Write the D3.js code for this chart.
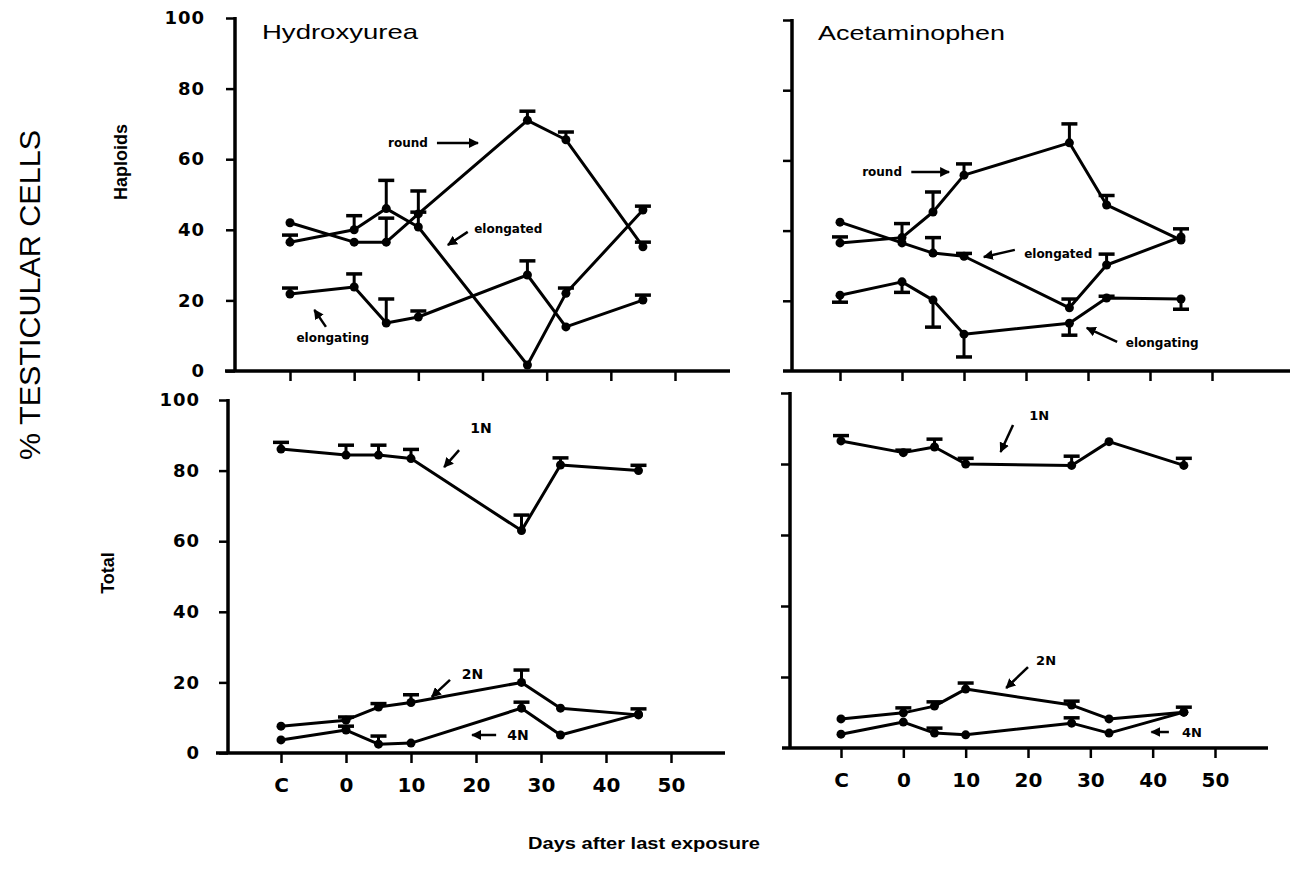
<!DOCTYPE html>
<html>
<head>
<meta charset="utf-8">
<script src="https://cdn.jsdelivr.net/npm/d3@7"></script>
<style>
  body { margin: 0; background: #fff; }
  svg { display: block; }
</style>
</head>
<body>
<svg id="chart" width="1291" height="880"></svg>
<script>
// x categories: 'C' is the control, the rest are days after last exposure
const days = ['C', 0, 5, 10, 27, 33, 45];
const xTickValues = [-10, 0, 10, 20, 30, 40, 50];
const xTickLabels = ['C', '0', '10', '20', '30', '40', '50'];
const yTickValues = [0, 20, 40, 60, 80, 100];

// Hydroxyurea - haploids (value, top of error bar)
const huRound = [42, 36.5, 36.5, 44.5, 71, 65.5, 35.2];
const huRoundErr = [null, null, 43.3, 51, 73.6, 67.7, 36.5];
const huElongated = [36.5, 40, 46, 40.8, 1.7, 22, 45.6];
const huElongatedErr = [38.5, 44, 54, 45, null, 23.5, 46.7];
const huElongating = [21.8, 23.8, 13.6, 15.3, 27.2, 12.5, 20.1];
const huElongatingErr = [23.5, 27.5, 20.4, 17, 31.2, null, 21.5];

// Acetaminophen - haploids
const acRound = [36.5, 38, 45.3, 55.8, 65, 47.3, 37.3];
const acRoundErr = [38.2, 42, 51, 59, 70.4, 50, null];
const acElongated = [42.4, 36.5, 33.6, 32.7, 18, 30.2, 38.2];
const acElongatedErr = [null, null, 38, 33.5, 20.5, 33.3, 40.5];
const acElongating = [21.6, 25.4, 20.2, 10.5, 13.6, 20.8, 20.5];
const acElongatingErr = [19.6, 22.4, 12.5, 4, 10.2, 21.3, 17.6];

// Hydroxyurea - total
const hu1N = [86.1, 84.4, 84.4, 83.4, 63, 81.6, 80];
const hu1NErr = [88, 87.2, 87.2, 86, 67.4, 83.6, 81.5];
const hu2N = [7.6, 9.3, 13, 14.3, 20, 12.7, 10.8];
const hu2NErr = [null, 10.2, 14, 16.5, 23.5, null, 12.5];
const hu4N = [3.7, 6.5, 2.5, 2.8, 12.7, 5.1, 11];
const hu4NErr = [null, 7.6, 4.8, null, 14.4, null, null];

// Acetaminophen - total
const ac1N = [86.5, 83.2, 84.8, 80, 79.6, 86.3, 79.6];
const ac1NErr = [88, 83.9, 87, 81.6, 82.2, null, 81.6];
const ac2N = [8.2, 9.9, 11.8, 16.6, 12.1, 8.2, 10.1];
const ac2NErr = [null, 11.3, 13, 18.3, 13.2, null, 11.5];
const ac4N = [3.9, 7.3, 4.2, 3.7, 7, 4.2, 10.1];
const ac4NErr = [null, null, 5.6, null, 8.5, null, null];

// annotations: label position and arrow (from -> to), all in data units
const huHapNotes = [
  { text: 'round', x: 11.5, y: 64.6, anchor: 'end', a: [12.9, 64.6, 19.3, 64.6] },
  { text: 'elongated', x: 18.7, y: 40.2, anchor: 'start', a: [17.7, 39.4, 14.6, 35.7] },
  { text: 'elongating', x: -9.0, y: 9.3, anchor: 'start', a: [-4.4, 12.5, -6.2, 17.3] }
];
const acHapNotes = [
  { text: 'round', x: 0, y: 56.7, anchor: 'end', a: [1.5, 56.7, 7.6, 56.7] },
  { text: 'elongated', x: 19.7, y: 33.3, anchor: 'start', a: [18.2, 34.5, 13.2, 32.5] },
  { text: 'elongating', x: 36.1, y: 8, anchor: 'start', a: [34.7, 8.3, 29.8, 12.3] }
];
const huTotNotes = [
  { text: '1N', x: 19.1, y: 92, anchor: 'start', a: [17.4, 85.8, 15.1, 81] },
  { text: '2N', x: 17.8, y: 22.4, anchor: 'start', a: [16, 20.7, 13.2, 15.9] },
  { text: '4N', x: 24.8, y: 5.1, anchor: 'start', a: [23.1, 5.1, 19.4, 5.1] }
];
const acTotNotes = [
  { text: '1N', x: 20.2, y: 93.8, anchor: 'start', a: [17.6, 91, 15.6, 83.4] },
  { text: '2N', x: 21.3, y: 24.8, anchor: 'start', a: [20, 22.8, 16.5, 16.9] },
  { text: '4N', x: 44.7, y: 4.5, anchor: 'start', a: [42.6, 4.5, 39.8, 4.5] }
];

const svg = d3.select('#chart');
svg.append('rect').attr('width', 1291).attr('height', 880).attr('fill', '#fff');

svg.append('defs').append('marker')
  .attr('id', 'head')
  .attr('viewBox', '0 0 10 10')
  .attr('refX', 9).attr('refY', 5)
  .attr('markerWidth', 4).attr('markerHeight', 4)
  .attr('markerUnits', 'strokeWidth')
  .attr('orient', 'auto')
  .append('path').attr('d', 'M0,0 L10,5 L0,10 z').attr('fill', '#000');

const numFont = 'DejaVu Sans, Liberation Sans, sans-serif';
const xVal = d => d === 'C' ? -10 : d;

const panels = [
  {
    xr: [290, 675], yr: [371, 18], axisX: 235, xLine: [225, 730], yLabels: true, xLabels: false,
    series: [[huRound, huRoundErr], [huElongated, huElongatedErr], [huElongating, huElongatingErr]],
    notes: huHapNotes, noteSize: 12
  },
  {
    xr: [840, 1212], yr: [371, 20], axisX: 792, xLine: [783, 1290], yLabels: false, xLabels: false,
    series: [[acRound, acRoundErr], [acElongated, acElongatedErr], [acElongating, acElongatingErr]],
    notes: acHapNotes, noteSize: 12
  },
  {
    xr: [281, 671], yr: [753, 400], axisX: 228, xLine: [216, 725], yLabels: true, xLabels: true,
    series: [[hu1N, hu1NErr], [hu2N, hu2NErr], [hu4N, hu4NErr]],
    notes: huTotNotes, noteSize: 14
  },
  {
    xr: [841, 1215], yr: [748, 393], axisX: 790, xLine: [782, 1268], yLabels: false, xLabels: true,
    series: [[ac1N, ac1NErr], [ac2N, ac2NErr], [ac4N, ac4NErr]],
    notes: acTotNotes, noteSize: 13
  }
];

panels.forEach(p => {
  const x = d3.scaleLinear().domain([-10, 50]).range(p.xr);
  const y = d3.scaleLinear().domain([0, 100]).range(p.yr);
  const g = svg.append('g');

  // y axis
  const yAxis = d3.axisLeft(y)
    .tickValues(p.yLabels ? yTickValues : yTickValues.slice(1))
    .tickSize(9).tickSizeOuter(0).tickPadding(p.axisX === 235 ? 21 : 19)
    .tickFormat(p.yLabels ? d3.format('d') : '');
  const ya = g.append('g').attr('transform', `translate(${p.axisX},0)`).call(yAxis);
  ya.select('.domain').remove();
  ya.selectAll('line').attr('stroke', '#000').attr('stroke-width', 2.5);
  ya.selectAll('text').attr('font-family', numFont).attr('font-weight', 'bold')
    .attr('font-size', 18).attr('fill', '#000').attr('letter-spacing', 1);
  g.append('line')
    .attr('x1', p.axisX).attr('x2', p.axisX)
    .attr('y1', y(0)).attr('y2', y(100) - 1)
    .attr('stroke', '#000').attr('stroke-width', 3.5);

  // x axis
  const xAxis = d3.axisBottom(x)
    .tickValues(xTickValues).tickSize(10).tickSizeOuter(0).tickPadding(15)
    .tickFormat((d, i) => p.xLabels ? xTickLabels[i] : '');
  const xa = g.append('g').attr('transform', `translate(0,${y(0)})`).call(xAxis);
  xa.select('.domain').remove();
  xa.selectAll('line').attr('stroke', '#000').attr('stroke-width', 2.5);
  xa.selectAll('text').attr('font-family', numFont).attr('font-weight', 'bold')
    .attr('font-size', 20).attr('fill', '#000');
  g.append('line')
    .attr('x1', p.xLine[0]).attr('x2', p.xLine[1])
    .attr('y1', y(0)).attr('y2', y(0))
    .attr('stroke', '#000').attr('stroke-width', 3.5);

  const line = d3.line().x((d, i) => x(xVal(days[i]))).y(d => y(d));

  p.series.forEach(([vals, errs]) => {
    // error bars
    vals.forEach((v, i) => {
      const e = errs[i];
      if (e === null) return;
      const cx = x(xVal(days[i]));
      g.append('line')
        .attr('x1', cx).attr('x2', cx).attr('y1', y(v)).attr('y2', y(e))
        .attr('stroke', '#000').attr('stroke-width', 3);
      g.append('line')
        .attr('x1', cx - 8).attr('x2', cx + 8).attr('y1', y(e)).attr('y2', y(e))
        .attr('stroke', '#000').attr('stroke-width', 3.5);
    });

    g.append('path')
      .datum(vals)
      .attr('d', line)
      .attr('fill', 'none')
      .attr('stroke', '#000')
      .attr('stroke-width', 3)
      .attr('stroke-linejoin', 'round');

    g.selectAll(null)
      .data(vals)
      .join('circle')
      .attr('cx', (d, i) => x(xVal(days[i])))
      .attr('cy', d => y(d))
      .attr('r', 4.5)
      .attr('fill', '#000');
  });

  p.notes.forEach(n => {
    g.append('text')
      .attr('x', x(n.x)).attr('y', y(n.y))
      .attr('dy', '0.35em')
      .attr('text-anchor', n.anchor)
      .attr('font-family', numFont)
      .attr('font-weight', 'bold')
      .attr('font-size', n.text.length > 2 ? 12 : p.noteSize)
      .text(n.text);
    g.append('line')
      .attr('x1', x(n.a[0])).attr('y1', y(n.a[1]))
      .attr('x2', x(n.a[2])).attr('y2', y(n.a[3]))
      .attr('stroke', '#000').attr('stroke-width', 2.5)
      .attr('marker-end', 'url(#head)');
  });
});

// titles
svg.append('text')
  .attr('x', 262).attr('y', 39)
  .attr('font-family', 'Liberation Sans, Arial, sans-serif')
  .attr('font-size', 21)
  .attr('textLength', 156).attr('lengthAdjust', 'spacingAndGlyphs')
  .text('Hydroxyurea');

svg.append('text')
  .attr('x', 818).attr('y', 40)
  .attr('font-family', 'Liberation Sans, Arial, sans-serif')
  .attr('font-size', 21)
  .attr('textLength', 187).attr('lengthAdjust', 'spacingAndGlyphs')
  .text('Acetaminophen');

svg.append('text')
  .attr('transform', 'translate(40,295) rotate(-90)')
  .attr('text-anchor', 'middle')
  .attr('font-family', 'Liberation Sans, Arial, sans-serif')
  .attr('font-size', 30)
  .attr('textLength', 330).attr('lengthAdjust', 'spacingAndGlyphs')
  .text('% TESTICULAR CELLS');

svg.append('text')
  .attr('transform', 'translate(127,162) rotate(-90)')
  .attr('text-anchor', 'middle')
  .attr('font-family', 'Liberation Sans Narrow, Liberation Sans, sans-serif')
  .attr('font-weight', 'bold')
  .attr('font-size', 18)
  .text('Haploids');

svg.append('text')
  .attr('transform', 'translate(114,573) rotate(-90)')
  .attr('text-anchor', 'middle')
  .attr('font-family', 'Liberation Sans Narrow, Liberation Sans, sans-serif')
  .attr('font-weight', 'bold')
  .attr('font-size', 18)
  .text('Total');

svg.append('text')
  .attr('x', 644).attr('y', 849)
  .attr('text-anchor', 'middle')
  .attr('font-family', 'Liberation Sans, Arial, sans-serif')
  .attr('font-weight', 'bold')
  .attr('font-size', 17)
  .attr('textLength', 232).attr('lengthAdjust', 'spacingAndGlyphs')
  .text('Days after last exposure');
</script>
</body>
</html>
